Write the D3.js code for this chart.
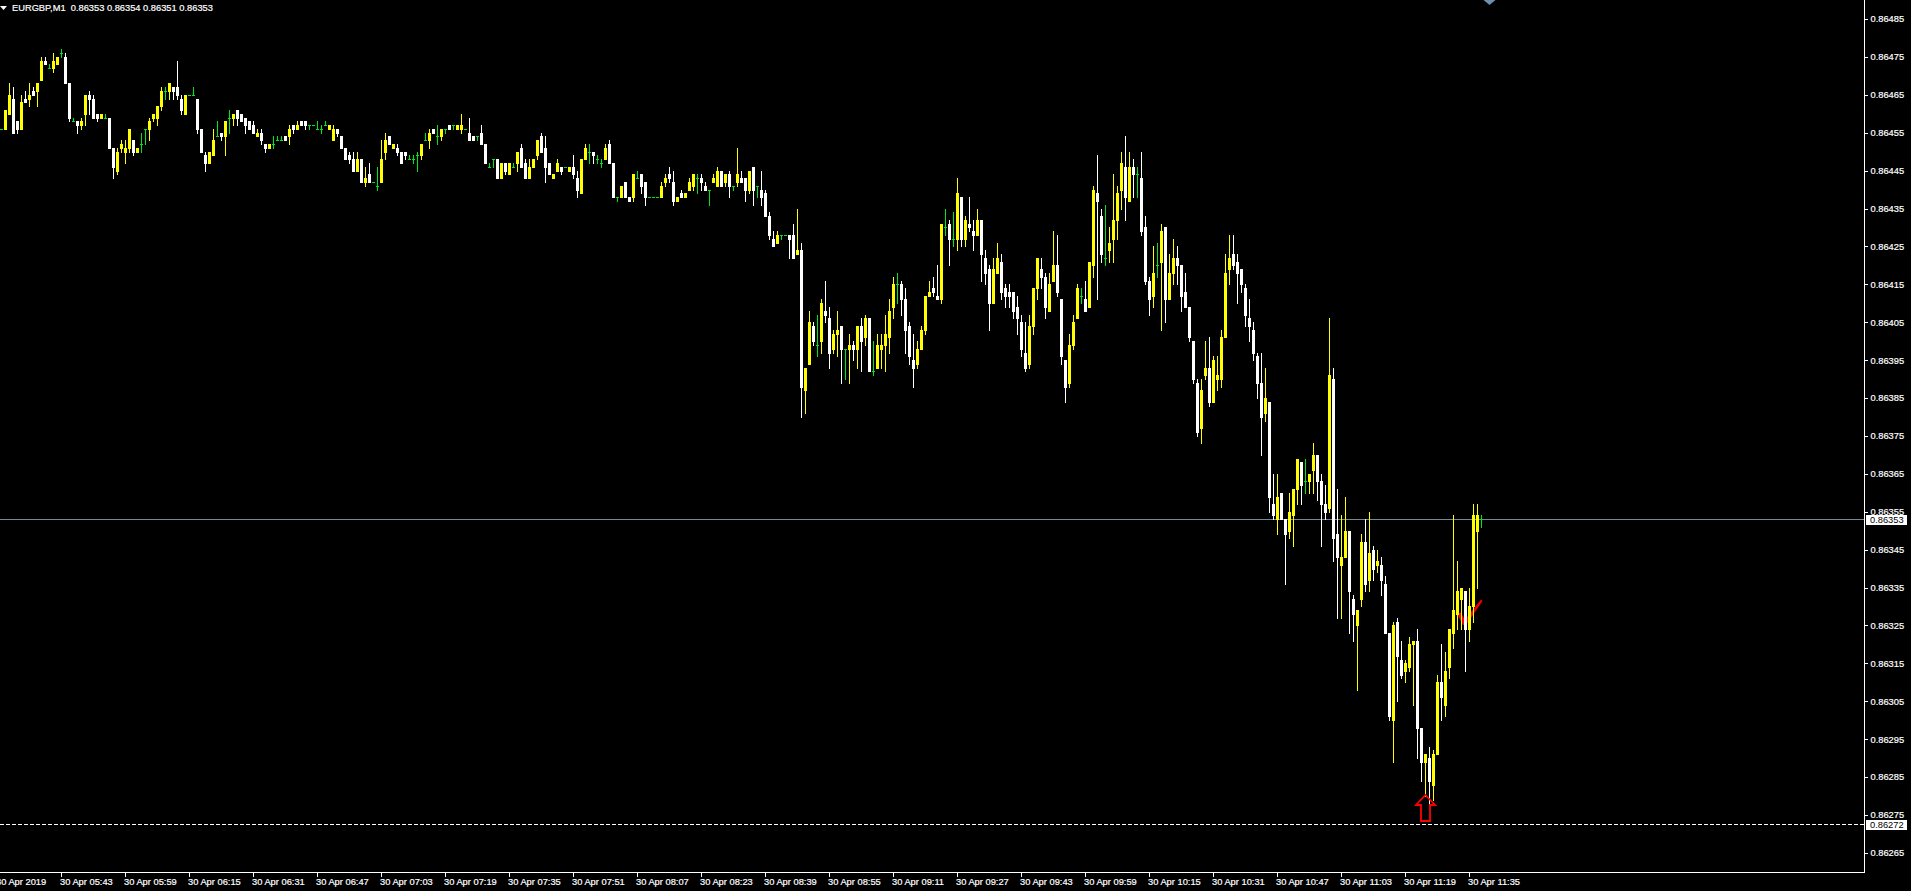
<!DOCTYPE html>
<html><head><meta charset="utf-8">
<script src="https://cdn.jsdelivr.net/npm/d3@7"></script>
<style>
html,body{margin:0;padding:0;background:#000;overflow:hidden}
svg{display:block}
text{font-family:"Liberation Sans",sans-serif;fill:#fff}
</style></head><body>
<div id="chart"></div>
<script>
// Prices are stored as 1e-5 units above priceBase, one line = 10 one-minute bars.
const priceBase = 0.86;
const opens = [
456,456,460,464,458,456,464,464,466,466,
469,474,472,472,473,476,475,468,458,458,
457,460,465,464,460,459,459,459,451,445,
451,450,451,453,450,452,456,456,459,459,
462,466,466,467,467,464,460,465,465,464,
456,449,447,449,454,455,454,459,459,461,
460,459,458,457,454,455,452,451,452,453,
453,454,454,457,456,458,458,457,457,456,
456,457,456,453,456,454,451,449,448,445,
448,442,444,442,441,442,450,454,451,451,
450,450,448,448,449,449,453,453,456,454,
454,456,457,457,456,456,456,455,454,454,
455,452,446,448,448,443,447,444,446,447,
451,447,443,446,449,454,451,447,443,445,
446,446,445,446,443,439,448,450,450,448,
447,448,452,447,438,438,442,438,438,443,
444,442,438,438,438,438,442,444,442,437,
439,438,440,441,443,443,441,440,442,441,
445,442,444,441,442,443,443,440,446,441,
440,439,433,427,426,428,428,428,428,423,
424,387,394,404,399,400,408,406,398,402,
404,398,398,399,398,404,401,406,392,393,
398,399,401,409,415,415,411,404,395,394,
398,403,412,414,412,411,430,431,427,427,
438,427,431,429,428,432,422,419,410,418,
421,414,413,413,409,405,397,394,404,414,
419,417,408,416,420,411,395,389,399,406,
412,411,409,420,439,433,422,424,427,432,
440,446,437,446,444,443,430,416,412,420,
421,430,411,418,422,420,413,409,400,389,
377,391,393,384,390,390,401,419,423,421,
419,414,406,403,396,389,381,384,357,353,
360,353,350,354,361,368,363,363,366,370,
363,357,356,390,349,341,343,350,332,325,
332,347,337,345,341,341,336,323,300,326,
316,313,314,320,321,298,289,290,283,291,
310,304,314,323,328,332,334,324,330,350,353];
const highs = [
456,461,468,467,458,465,466,468,467,468,
475,475,473,476,475,477,476,468,459,458,
459,465,466,465,460,460,460,459,451,451,
453,453,456,453,451,455,456,459,460,462,
467,467,468,467,474,465,465,465,467,464,
456,450,450,456,458,455,458,461,460,461,
460,459,458,458,456,456,452,452,454,454,
454,454,457,457,458,458,458,457,457,458,
457,458,457,457,456,454,451,450,450,450,
448,446,447,442,446,453,455,454,452,452,
450,450,449,449,450,452,455,456,456,457,
456,456,457,457,457,460,456,459,454,454,
457,452,447,448,448,447,447,447,447,450,
452,448,448,448,453,455,454,447,444,448,
446,446,446,449,445,448,452,452,450,449,
448,452,453,447,438,441,442,438,444,445,
444,442,438,438,438,442,444,446,445,438,
440,439,443,444,444,444,442,440,444,446,
445,444,445,441,451,445,443,445,446,441,
445,440,434,429,429,428,428,428,431,435,
426,393,408,405,407,411,416,409,403,408,
404,398,402,400,404,406,407,406,400,402,
402,407,411,417,418,416,414,405,402,400,
404,412,416,417,420,431,435,432,434,443,
438,433,438,432,435,432,424,420,422,426,
423,415,415,413,412,407,405,407,414,422,
422,418,418,429,428,411,395,402,407,415,
414,416,421,441,449,435,436,430,444,441,
450,454,450,448,446,450,433,417,425,426,
431,430,423,427,425,420,418,409,400,390,
390,400,401,396,396,403,423,428,428,423,
419,415,411,405,397,397,393,384,365,365,
360,353,360,361,369,368,369,365,373,370,
365,362,406,393,361,354,359,350,333,329,
349,353,355,346,345,343,338,323,326,327,
321,316,322,321,324,298,291,293,292,312,
320,318,324,354,342,335,334,335,357,357,354];
const lows = [
456,456,460,455,455,456,463,462,465,462,
469,473,472,471,473,475,468,458,458,455,
456,457,460,459,458,459,459,451,443,444,
450,447,450,449,450,450,452,453,458,457,
461,464,464,464,464,460,460,465,465,455,
450,445,447,449,454,453,449,455,457,457,
458,455,456,455,454,452,450,451,451,453,
453,453,452,455,456,457,456,456,457,456,
455,457,456,453,454,451,448,447,445,445,
442,441,442,442,440,442,448,452,451,449,
447,448,448,447,445,448,453,451,455,452,
453,455,456,456,456,455,456,453,453,453,
452,447,446,446,443,443,444,444,446,445,
446,443,443,446,448,450,442,444,443,445,
444,446,445,443,438,439,448,447,447,447,
446,448,447,438,437,438,438,437,437,443,
439,436,438,438,438,438,441,442,436,437,
438,438,440,440,439,440,440,436,442,441,
441,441,438,440,441,442,437,439,436,438,
436,433,427,425,426,427,428,422,422,423,
380,381,394,399,396,397,405,393,397,396,
389,390,389,395,393,392,399,392,391,393,
393,392,397,406,410,407,397,394,388,393,
398,402,412,412,411,410,428,420,425,424,
425,425,429,424,428,416,415,403,410,418,
411,409,409,406,402,396,392,393,402,411,
414,406,408,416,412,394,384,388,398,406,
410,408,409,417,411,421,420,421,421,427,
435,432,437,438,438,428,415,407,409,417,
403,405,411,415,415,408,409,400,389,375,
373,390,383,384,387,388,401,415,419,410,
413,404,400,395,385,370,379,355,353,349,
353,336,348,346,357,357,360,360,360,358,
346,353,355,342,327,327,343,323,321,308,
330,334,334,337,339,333,323,300,289,305,
311,310,313,304,290,284,280,278,279,291,
300,301,311,319,324,324,313,321,326,335,351];
const closes = [
456,461,465,455,456,463,463,465,465,468,
474,473,472,474,475,476,468,459,458,457,
458,465,464,459,459,460,459,451,446,450,
452,451,456,450,451,452,456,458,460,462,
466,466,468,466,465,461,465,465,465,456,
450,447,450,453,454,454,458,459,460,459,
458,457,456,455,455,453,451,452,452,453,
453,453,456,456,457,457,457,457,457,456,
456,457,457,456,455,451,448,448,445,448,
442,443,442,442,441,448,453,452,452,450,
447,449,448,448,449,452,453,455,455,454,
456,456,456,457,457,457,456,453,453,454,
452,447,446,448,443,447,445,447,446,450,
446,443,446,448,453,450,446,444,444,447,
445,446,446,444,440,448,451,450,449,448,
447,451,447,438,438,441,438,437,444,443,
441,438,438,438,438,441,443,443,437,438,
438,439,442,444,443,442,440,440,443,445,
441,444,441,441,444,442,440,445,440,441,
438,433,428,425,428,428,428,427,422,424,
388,393,405,400,399,410,407,397,402,403,
398,398,399,398,404,400,406,392,392,399,
399,402,408,415,415,411,403,396,393,398,
403,412,413,413,411,431,430,427,427,439,
427,432,430,428,432,423,418,410,419,422,
413,412,412,408,406,398,393,404,414,422,
417,409,415,420,413,396,388,399,405,414,
412,408,421,440,437,423,422,426,432,439,
447,438,446,444,444,429,416,411,418,420,
429,411,418,422,420,412,409,401,390,376,
387,393,384,395,391,401,418,422,420,418,
415,407,404,397,389,380,385,359,354,359,
353,349,355,361,369,362,363,365,370,363,
357,355,391,348,343,343,350,334,328,329,
347,336,344,340,342,337,323,301,325,317,
312,315,320,321,298,289,291,284,291,310,
306,313,324,329,334,335,324,330,354,354,353];

const priceTicks = [0.86485,0.86475,0.86465,0.86455,0.86445,0.86435,0.86425,0.86415,0.86405,0.86395,0.86385,0.86375,0.86365,0.86355,0.86345,0.86335,0.86325,0.86315,0.86305,0.86295,0.86285,0.86275,0.86265];
const timeLabels = ["30 Apr 2019","30 Apr 05:43","30 Apr 05:59","30 Apr 06:15","30 Apr 06:31","30 Apr 06:47","30 Apr 07:03","30 Apr 07:19","30 Apr 07:35","30 Apr 07:51","30 Apr 08:07","30 Apr 08:23","30 Apr 08:39","30 Apr 08:55","30 Apr 09:11","30 Apr 09:27","30 Apr 09:43","30 Apr 09:59","30 Apr 10:15","30 Apr 10:31","30 Apr 10:47","30 Apr 11:03","30 Apr 11:19","30 Apr 11:35"];
const titleSymbol = "EURGBP,M1";
const titleQuote = ["0.86353","0.86354","0.86351","0.86353"];
const bidPrice = 0.86353, bidLabel = "0.86353";
const stopPrice = 0.862727, stopLabel = "0.86272";
const arrowBar = 356, arrowPrice = 0.86280;
const checkBar = 370, checkPrice = 0.86328;

const W = 1911, H = 891, axisX = 1864, axisY = 872;
const svg = d3.select("#chart").append("svg").attr("width",W).attr("height",H).style("background","#000");
const x = d3.scaleLinear().domain([-0.375,465.625]).range([0,axisX]);
const pxPerPrice = 379000;
const y = d3.scaleLinear()
  .domain([0.86485+19.5/pxPerPrice, 0.86485-(axisY+0.5-19.5)/pxPerPrice])
  .range([0,axisY+0.5]);
const row = p => Math.floor(y(priceBase+p/1e5));

const bars = opens.map((o,i)=>({i,o,h:highs[i],l:lows[i],c:closes[i]}));
const colour = d => d.c>d.o ? "#ffff00" : d.c<d.o ? "#ffffff" : "#00e61c";

// red tick mark sits behind the candles
const cx = x(checkBar), cy = y(checkPrice);
svg.append("polygon").attr("fill","#f00000")
  .attr("points",[[cx-24.5,cy-0.5],[cx-21,cy-2],[cx-16.5,cy+5],[cx-0.5,cy-15],[cx+1,cy-13.5],[cx-15.5,cy+10.5],[cx-18.5,cy+10.5]].join(" "));

// price lines
svg.append("line").attr("x1",0).attr("x2",axisX).attr("y1",Math.floor(y(bidPrice))+0.5).attr("y2",Math.floor(y(bidPrice))+0.5)
  .attr("stroke","#778899").attr("stroke-width",1).attr("shape-rendering","crispEdges");

const g = svg.append("g").attr("shape-rendering","crispEdges");
g.selectAll("rect.wick").data(bars).join("rect").attr("class","wick")
  .attr("x",d=>x(d.i)-0.5).attr("width",1)
  .attr("y",d=>row(d.h)).attr("height",d=>row(d.l)-row(d.h)+1)
  .attr("fill",colour);
g.selectAll("rect.body").data(bars).join("rect").attr("class","body")
  .attr("x",d=>x(d.i)-1.5).attr("width",3)
  .attr("y",d=>row(Math.max(d.o,d.c))).attr("height",d=>row(Math.min(d.o,d.c))-row(Math.max(d.o,d.c))+1)
  .attr("fill",colour);

// up arrow at the low
const ax = x(arrowBar), ay = Math.round(y(arrowPrice));
svg.append("path").attr("fill","none").attr("stroke","#ff0000").attr("stroke-width",1.8)
  .attr("d",`M${ax},${ay-1} L${ax+9.5},${ay+9} L${ax+4.5},${ay+9} L${ax+4.5},${ay+25} L${ax-4.5},${ay+25} L${ax-4.5},${ay+9} L${ax-9.5},${ay+9} Z`);

svg.append("line").attr("x1",0).attr("x2",axisX).attr("y1",Math.floor(y(stopPrice))+0.5).attr("y2",Math.floor(y(stopPrice))+0.5)
  .attr("stroke","#fff").attr("stroke-dasharray","4 2").attr("shape-rendering","crispEdges");

// axes
const yAxis = d3.axisRight(y).tickValues(priceTicks).tickFormat(d3.format(".5f")).tickSizeInner(3).tickSizeOuter(0).tickPadding(3).offset(0);
const yg = svg.append("g").attr("transform",`translate(${axisX+0.5},0)`).call(yAxis);
const tickBars = timeLabels.map((_,i)=>-1+16*i);
const xAxis = d3.axisBottom(x).tickValues(tickBars).tickFormat((d,i)=>timeLabels[i]).tickSizeInner(4).tickSizeOuter(0).tickPadding(3).offset(0);
const xg = svg.append("g").attr("transform",`translate(0,${axisY+0.5})`).call(xAxis);
for (const a of [yg,xg]) {
  a.attr("shape-rendering","crispEdges");
  a.selectAll(".domain,line").attr("stroke","#fff");
  a.selectAll("text").attr("fill","#fff").attr("stroke","#fff").attr("stroke-width",0.2).style("font-size","9.3px").attr("font-family",null);
}
xg.selectAll("text").attr("text-anchor","start").attr("dx",-1.5).attr("dy","0.6em");

// price tags
function tag(p,label){
  const yy = Math.floor(y(p))+0.5;
  svg.append("rect").attr("x",axisX+2).attr("y",yy-5).attr("width",41).attr("height",10).attr("fill","#fff").attr("shape-rendering","crispEdges");
  svg.append("text").attr("x",axisX+6).attr("y",yy+3.4).style("font-size","9.3px").style("fill","#000").text(label);
}
tag(bidPrice,bidLabel); tag(stopPrice,stopLabel);

// header
svg.append("path").attr("d","M0,6 L7,6 L3.5,10 Z").attr("fill","#fff");
svg.append("text").attr("x",12).attr("y",11).style("font-size","9.3px").attr("stroke","#fff").attr("stroke-width",0.2).attr("xml:space","preserve")
  .text(titleSymbol+"  "+titleQuote.join(" "));
// clipped marker at the top edge
svg.append("path").attr("d","M1483.5,0 L1495.5,0 L1489.5,5 Z").attr("fill","#6f8faf");
</script>
</body></html>
